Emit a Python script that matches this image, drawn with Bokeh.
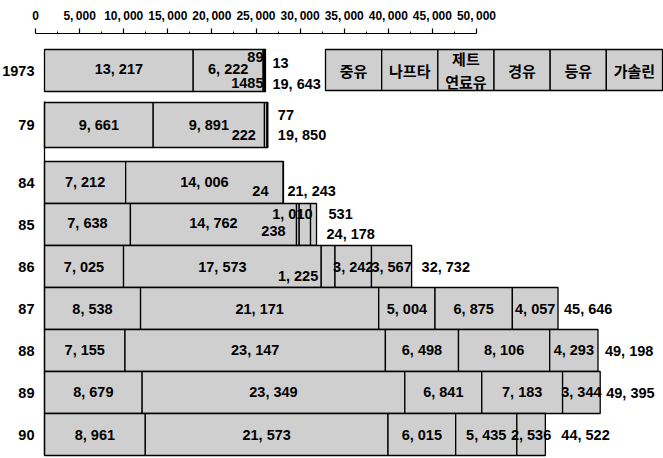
from bokeh.plotting import figure
from bokeh.models import Range1d, LinearAxis, FixedTicker, ColumnDataSource
from bokeh.core.properties import value
from bokeh.embed import file_html
from bokeh.resources import INLINE

# ---------------- data ----------------
years = ["1973", "79", "84", "85", "86", "87", "88", "89", "90"]
categories = ["중유", "나프타", "제트\n연료유", "경유", "등유", "가솔린"]
heavy_oil = [13217, 9661, 7212, 7638, 7025, 8538, 7155, 8679, 8961]
naphtha = [6222, 9891, 14006, 14762, 17573, 21171, 23147, 23349, 21573]
jet_fuel = [89, 222, 24, 238, 1225, 5004, 6498, 6841, 6015]
gas_oil = [14, 77, 0, 1010, 3242, 6875, 8106, 7183, 5435]
kerosene = [85, 0, 0, 531, 3567, 4057, 4293, 3344, 2536]
gasoline = [13, 0, 0, 0, 0, 0, 0, 0, 0]
totals = [19643, 19850, 21243, 24178, 32732, 45646, 49198, 49395, 44522]
axis_ticks = [0, 5000, 10000, 15000, 20000, 25000, 30000, 35000, 40000, 45000, 50000]

series = [heavy_oil, naphtha, jet_fuel, gas_oil, kerosene, gasoline]

# ---------------- layout ----------------
NUM_FONT = "Liberation Sans"
KO_FONT = "Noto Sans CJK KR"
FILL = "#cfcfcf"
W, H = 663, 458
PAGE_L, PAGE_R = 0, W
FRAME_TOP = 33
BAR_ZERO_PX = 44.0      # page x of bar origin
BAR_PX_PER_UNIT = 0.01125
AX_ZERO_PX, AX_PX_PER_UNIT = 35.0, 0.00882

row_center = [70, 124.5, 182, 224, 266, 308, 350, 392, 434]
row_height = [42, 45, 42, 42, 42, 42, 42, 42, 42]
total_dx = [7, 10, 4, 10, 10, 6, 7, 6, 16]
total_dy = [13, 10, 8, 9, 0, 0, 0, 0, 0]
label_dy = [-2, 0, -1, -2, 0, 0, -1, -1, 0]


def fmt(v):
    return f"{v:,}".replace(",", ", ")


def fmt_axis(v):
    return f"{v:,}".replace(",", ",\u2009")


x_start = (PAGE_L - BAR_ZERO_PX) / BAR_PX_PER_UNIT
x_end = (PAGE_R - BAR_ZERO_PX) / BAR_PX_PER_UNIT

p = figure(width=W, height=H,
           x_range=Range1d(x_start, x_end), y_range=Range1d(H, FRAME_TOP),
           x_axis_location=None, y_axis_location=None,
           output_backend="svg", toolbar_location=None,
           min_border_left=0, min_border_right=0,
           min_border_top=FRAME_TOP, min_border_bottom=0)
p.outline_line_color = None
p.grid.grid_line_color = None
p.background_fill_color = "white"
p.border_fill_color = "white"

p.extra_x_ranges = {
    "axis": Range1d((PAGE_L - AX_ZERO_PX) / AX_PX_PER_UNIT, (PAGE_R - AX_ZERO_PX) / AX_PX_PER_UNIT),
    "px": Range1d(PAGE_L, PAGE_R),
}

# top axis
ax = LinearAxis(x_range_name="axis",
                ticker=FixedTicker(ticks=axis_ticks,
                                   minor_ticks=[t + 2500 for t in axis_ticks[:-1]]),
                bounds=(axis_ticks[0], axis_ticks[-1]))
ax.major_label_overrides = {t: fmt_axis(t) for t in axis_ticks}
ax.major_tick_in = 0
ax.major_tick_out = 5
ax.minor_tick_in = 0
ax.minor_tick_out = 2
ax.axis_line_width = 1.2
ax.major_tick_line_width = 1.2
ax.major_label_standoff = 6
ax.major_label_text_font = NUM_FONT
ax.major_label_text_font_size = "12px"
ax.major_label_text_font_style = "bold"
ax.major_label_text_color = "black"
p.add_layout(ax, "above")

# ---------------- bars ----------------
seg = dict(y=[], left=[], right=[], h=[])
lab = dict(x=[], y=[], text=[], dx=[], align=[])
ends = []
for i, yr in enumerate(years):
    cum = 0
    for s in series:
        v = s[i]
        if v <= 0:
            continue
        seg["y"].append(row_center[i])
        seg["left"].append(cum)
        seg["right"].append(cum + v)
        seg["h"].append(row_height[i])
        if v >= 2000:
            lab["x"].append(cum + v / 2)
            lab["y"].append(row_center[i] + label_dy[i])
            lab["text"].append(fmt(v))
            lab["dx"].append(0)
            lab["align"].append("center")
        cum += v
    ends.append(cum)

p.hbar(y="y", left="left", right="right", height="h", source=ColumnDataSource(seg),
       fill_color=FILL, line_color="black", line_width=1.3)

# left continuation line from 1979 down
p.segment(x0=[0], y0=[row_center[1] - row_height[1] / 2 - 1], x1=[0],
          y1=[row_center[-1] + row_height[-1] / 2], line_color="black", line_width=1.3)

# totals
for i in range(len(years)):
    lab["x"].append(ends[i])
    lab["y"].append(row_center[i] + total_dy[i])
    lab["text"].append(fmt(totals[i]))
    lab["dx"].append(total_dx[i])
    lab["align"].append("left")

# small-segment labels: (row, text, anchor value, dx, dy, align)
nap_end_86 = heavy_oil[4] + naphtha[4]
special = [
    (0, fmt(jet_fuel[0]), ends[0], -2, -14, "right"),
    (0, fmt(gasoline[0]), ends[0], 7, -8, "left"),
    (0, f"{gas_oil[0]}{kerosene[0]}", ends[0], -2, 12, "right"),
    (1, fmt(jet_fuel[1]), ends[1], -12, 10, "right"),
    (1, fmt(gas_oil[1]), ends[1], 10, -10, "left"),
    (2, fmt(jet_fuel[2]), ends[2], -15, 8, "right"),
    (3, fmt(gas_oil[3]), ends[3], -4, -11, "right"),
    (3, fmt(jet_fuel[3]), ends[3], -31, 6, "right"),
    (3, fmt(kerosene[3]), ends[3], 12, -11, "left"),
    (4, fmt(jet_fuel[4]), nap_end_86, -3, 9, "right"),
]
for r, t, xa, dx, dy, al in special:
    lab["x"].append(xa)
    lab["y"].append(row_center[r] + dy)
    lab["text"].append(t)
    lab["dx"].append(dx)
    lab["align"].append(al)

p.text(x="x", y="y", text="text", x_offset="dx", text_align="align",
       source=ColumnDataSource(lab), text_font=value(NUM_FONT),
       text_font_size="14.5px", text_font_style="bold", text_baseline="middle",
       text_color="black")

# year labels
p.text(x=[34] * len(years), y=row_center, text=years, x_range_name="px",
       text_font=value(NUM_FONT), text_font_size="14.5px", text_font_style="bold",
       text_align="right", text_baseline="middle", text_color="black")

# ---------------- legend boxes ----------------
LEG_L, LEG_R, LEG_T, LEG_B = 325, 662, 49, 90
bw = (LEG_R - LEG_L) / len(categories)
lx = [LEG_L + bw * (k + 0.5) for k in range(len(categories))]
p.rect(x=lx, y=[(LEG_T + LEG_B) / 2] * len(categories), width=bw, height=LEG_B - LEG_T,
       x_range_name="px", fill_color=FILL, line_color="black", line_width=1.3)
ltx, lty, ltt = [], [], []
for k, c in enumerate(categories):
    parts = c.split("\n")
    if len(parts) == 1:
        ltx.append(lx[k]); lty.append((LEG_T + LEG_B) / 2); ltt.append(c)
    else:
        ltx += [lx[k], lx[k]]
        lty += [(LEG_T + LEG_B) / 2 - 12, (LEG_T + LEG_B) / 2 + 11]
        ltt += parts
p.text(x=ltx, y=lty, text=ltt, x_range_name="px", text_font=value(KO_FONT),
       text_font_size="15px", text_font_style="bold", text_align="center",
       text_baseline="middle", text_color="black")

open("out.html", "w").write(file_html(p, INLINE))
